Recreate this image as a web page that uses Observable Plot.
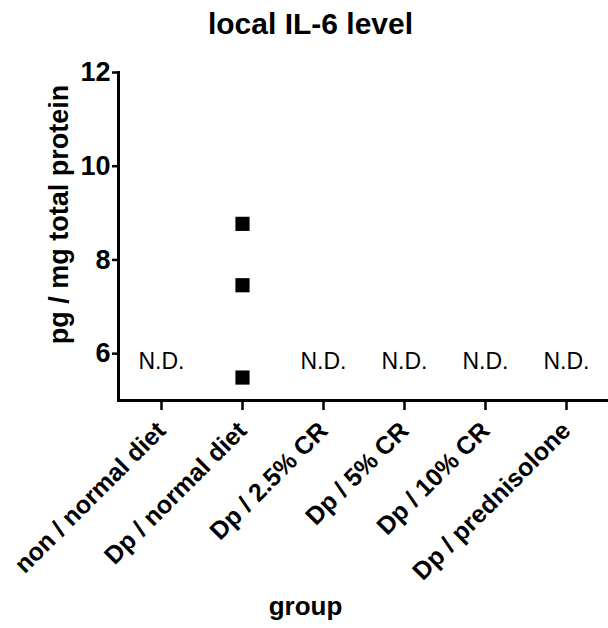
<!DOCTYPE html>
<html>
<head>
<meta charset="utf-8">
<script src="https://cdn.jsdelivr.net/npm/d3@7"></script>
<script src="https://cdn.jsdelivr.net/npm/@observablehq/plot@0.6"></script>
<style>
  html, body { margin: 0; padding: 0; background: #fff; }
</style>
</head>
<body>
<div id="chart"></div>
<script>
const groups = ["non / normal diet", "Dp / normal diet", "Dp / 2.5% CR", "Dp / 5% CR", "Dp / 10% CR", "Dp / prednisolone"];
const measuredGroup = "Dp / normal diet";
const measuredValues = [8.77, 7.46, 5.49];
const ndGroups = ["non / normal diet", "Dp / 2.5% CR", "Dp / 5% CR", "Dp / 10% CR", "Dp / prednisolone"];
const ndLevel = 5.82;
const yTicks = [6, 8, 10, 12];
const titleText = "local IL-6 level";
const yLabel = "pg / mg total protein";
const xLabel = "group";

const points = measuredValues.map(v => ({group: measuredGroup, value: v}));
const nd = ndGroups.map(g => ({group: g, value: ndLevel}));

const chart = Plot.plot({
  width: 608,
  height: 628,
  marginLeft: 118,
  marginRight: 0,
  marginTop: 72,
  marginBottom: 228,
  style: {fontFamily: "'Liberation Sans', Arial, sans-serif", fontWeight: "bold", color: "#000", background: "#fff"},
  x: {type: "point", domain: groups, padding: 0.5},
  y: {domain: [5, 12]},
  marks: [
    Plot.frame({anchor: "left", strokeWidth: 3}),
    Plot.frame({anchor: "bottom", strokeWidth: 3}),
    Plot.axisY({ticks: yTicks, tickFormat: d => String(d), tickSize: 6, tickPadding: 2, fontSize: 27, strokeWidth: 2.5, label: null}),
    Plot.axisX({tickRotate: -45, tickSize: 10, tickPadding: 16, fontSize: 25, strokeWidth: 2.5, label: null}),
    Plot.dot(points, {x: "group", y: "value", symbol: "square", r: 8, fill: "#000", stroke: null}),
    Plot.text(nd, {x: "group", y: "value", text: () => "N.D.", fontSize: 23, fontWeight: "normal", fill: "#000"}),
    Plot.text([titleText], {frameAnchor: "top", textAnchor: "middle", dx: -53, dy: -60, fontSize: 30, fontWeight: "bold", fill: "#000"}),
    Plot.text([yLabel], {frameAnchor: "left", textAnchor: "middle", rotate: -90, dx: -59, dy: -22, fontSize: 27, fontWeight: "bold", fill: "#000"}),
    Plot.text([xLabel], {frameAnchor: "bottom", textAnchor: "middle", dx: -58, dy: 214, fontSize: 26, fontWeight: "bold", fill: "#000"})
  ]
});
document.getElementById("chart").appendChild(chart);
</script>
</body>
</html>
